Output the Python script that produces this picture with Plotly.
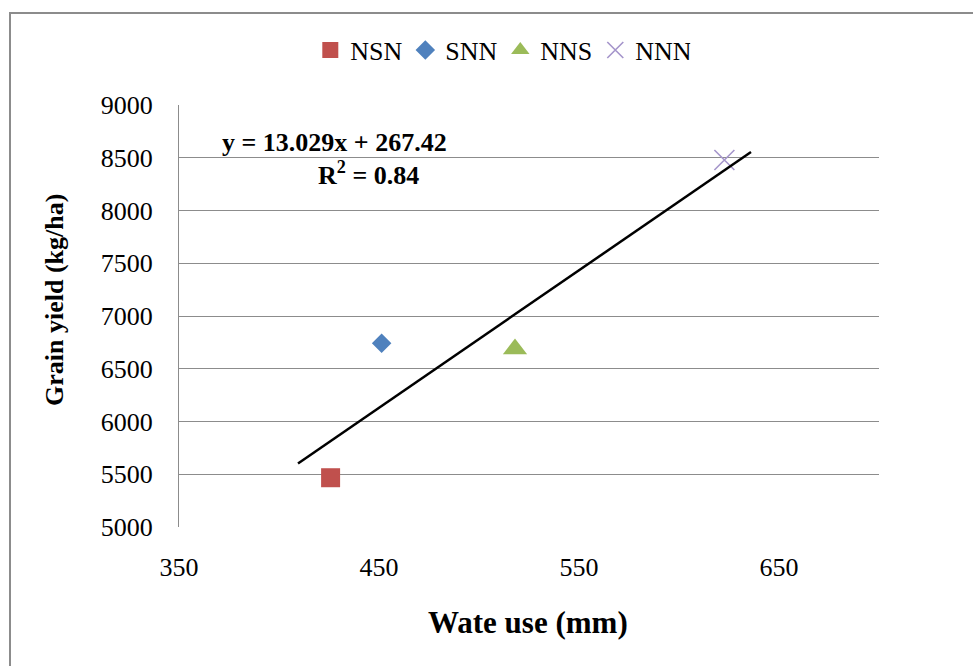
import plotly.graph_objects as go

# Water use (mm) and grain yield (kg/ha) per treatment
treatments = ["NSN", "SNN", "NNS", "NNN"]
water_use = [425.8, 451.3, 518.0, 622.7]
grain_yield = [5467, 6741, 6687, 8479]

# Linear trendline reported on the chart
SLOPE = 13.029
INTERCEPT = 267.42
R_SQUARED = 0.84
trend_x = [409.5, 636.0]

x_ticks = [350, 450, 550, 650]
y_ticks = [5000, 5500, 6000, 6500, 7000, 7500, 8000, 8500, 9000]

marker_styles = {
    "NSN": dict(symbol="square", size=19, color="#C0504D"),
    "SNN": dict(symbol="diamond", size=15, color="#4F81BD"),
    "NNS": dict(symbol="triangle-up", size=21, color="#9BBB59"),
    "NNN": dict(symbol="x-thin-open", size=20, color="#A595CB",
                line=dict(color="#A595CB", width=1.6)),
}

FONT = "Liberation Serif, Times New Roman, serif"

fig = go.Figure()

for name, x, y in zip(treatments, water_use, grain_yield):
    fig.add_trace(go.Scatter(
        x=[x], y=[y], mode="markers", name=name,
        marker=marker_styles[name],
    ))

trend_y = [SLOPE * x + INTERCEPT for x in trend_x]
fig.add_trace(go.Scatter(
    x=trend_x, y=trend_y, mode="lines", showlegend=False,
    line=dict(color="black", width=2.5),
))

W, H = 973, 666
L, R, T, B = 179, 94, 105, 139

fig.update_layout(
    width=W, height=H,
    margin=dict(l=L, r=R, t=T, b=B),
    paper_bgcolor="white", plot_bgcolor="white",
    font=dict(family=FONT, color="black", size=26),
    showlegend=True,
    legend=dict(
        orientation="h", x=0.459, xanchor="center", y=1.13, yanchor="middle",
        font=dict(family=FONT, size=26), itemwidth=30, entrywidth=50,
        bgcolor="rgba(0,0,0,0)",
    ),
    xaxis=dict(
        range=[350, 700], tickvals=x_ticks, showgrid=False, zeroline=False,
        showline=False, ticks="", ticklabelstandoff=22,
        tickfont=dict(family=FONT, size=26),
    ),
    yaxis=dict(
        range=[5000, 9000], tickvals=y_ticks, showgrid=True,
        gridcolor="#8C8C8C", gridwidth=1.3, zeroline=False,
        showline=True, linecolor="#8C8C8C", linewidth=1.3,
        ticks="", ticklabelstandoff=20,
        tickfont=dict(family=FONT, size=26),
    ),
    annotations=[
        dict(xref="paper", yref="paper", x=(527.5 - L) / 700, y=(527 - 622) / 422,
             text="<b>Wate use (mm)</b>", showarrow=False,
             font=dict(family=FONT, size=31), xanchor="center", yanchor="middle"),
        dict(xref="paper", yref="paper", x=(54 - L) / 700, y=(527 - 300) / 422,
             text="<b>Grain yield (kg/ha)</b>", showarrow=False, textangle=-90,
             font=dict(family=FONT, size=26), xanchor="center", yanchor="middle"),
        dict(xref="paper", yref="paper", x=(334 - L) / 700, y=(527 - 142) / 422,
             text=f"<b>y = {SLOPE}x + {INTERCEPT}</b>", showarrow=False,
             font=dict(family=FONT, size=26), xanchor="center", yanchor="middle"),
        dict(xref="paper", yref="paper", x=(368 - L) / 700, y=(527 - 173) / 422,
             text=f"<b>R<sup>2</sup> = {R_SQUARED}</b>", showarrow=False,
             font=dict(family=FONT, size=26), xanchor="center", yanchor="middle"),
    ],
    shapes=[
        dict(type="rect", xref="paper", yref="paper",
             x0=(10 - L) / 700, x1=(990 - L) / 700,
             y0=(527 - 690) / 422, y1=(527 - 13) / 422,
             line=dict(color="#8C8C8C", width=2), layer="below"),
    ],
)

fig.write_html("out.html")
